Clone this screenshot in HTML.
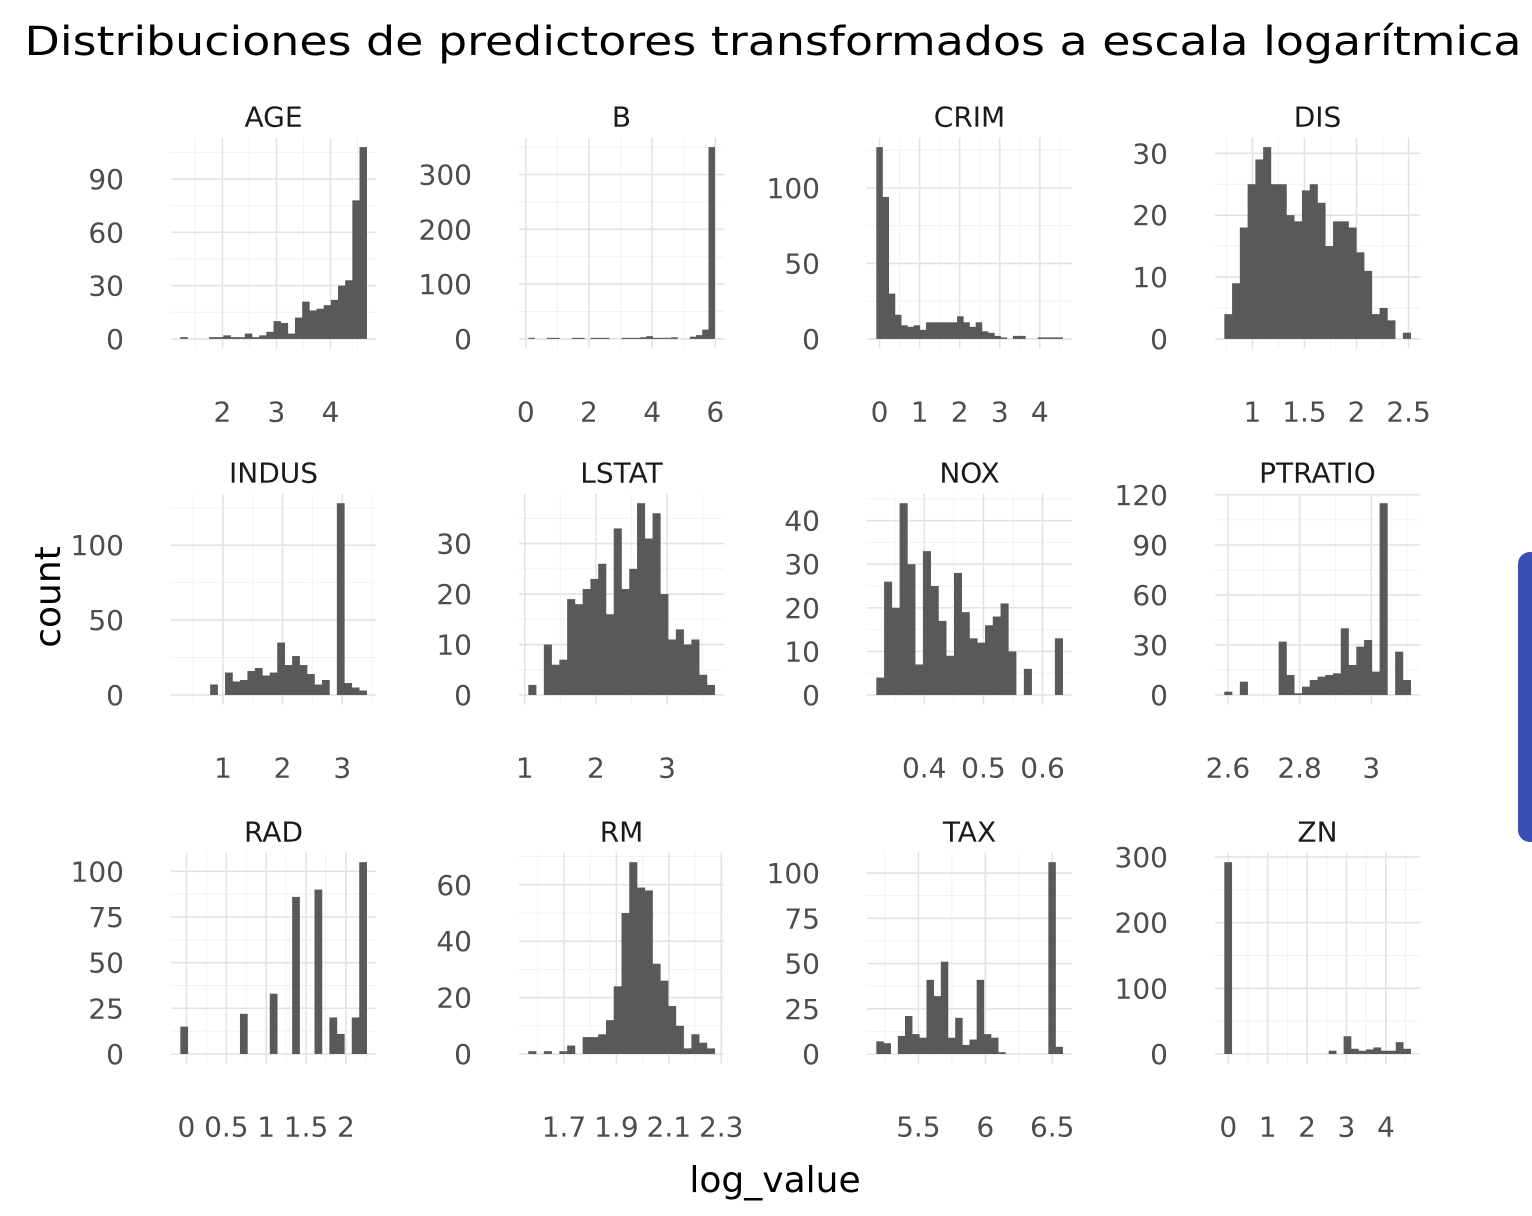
<!DOCTYPE html>
<html><head><meta charset="utf-8"><style>
html,body{margin:0;padding:0;background:#fff;}
svg{display:block;font-family:"DejaVu Sans","Liberation Sans",sans-serif;}
</style></head><body>
<svg id="chart" width="1532" height="1216" viewBox="0 0 1532 1216">
<text x="773" y="55" text-anchor="middle" font-size="40" fill="#000" textLength="1497" lengthAdjust="spacingAndGlyphs">Distribuciones de predictores transformados a escala logarítmica</text>
<text x="775" y="1192" text-anchor="middle" font-size="36" fill="#000">log_value</text>
<text transform="translate(60,597) rotate(-90)" text-anchor="middle" font-size="36" fill="#000">count</text>
<rect x="1518" y="552" width="30" height="290" rx="12" fill="#3a4fb5"/>
<g id="panels"></g>
</svg>
<script>
const panelNames = ["AGE","B","CRIM","DIS","INDUS","LSTAT","NOX","PTRATIO","RAD","RM","TAX","ZN"];
const binLo = [1.22,0.08,-0.08,0.73,0.285,1.05,0.319,2.59,-0.077,1.564,5.186,-0.1];
const binHi = [4.67,5.98,4.57,2.52,3.41,3.67,0.634,3.11,2.26,2.275,6.578,4.63];
const countsAGE = [1,0,0,0,1,1,2,1,1,3,1,2,4,10,9,3,12,21,16,17,19,22,30,33,78,108];
const countsB = [2,0,0,2,2,0,0,2,2,0,2,2,2,0,0,2,2,2,3,5,2,2,2,3,0,0,4,7,17,350];
const countsCRIM = [127,94,30,16,9,8,9,6,11,11,11,11,11,15,11,8,11,5,4,2,1,0,2,2,0,0,1,1,1,1];
const countsDIS = [4,9,18,25,29,31,25,25,20,19,24,25,22,15,19,19,18,14,11,4,5,3,0,1];
const countsINDUS = [0,0,0,0,7,0,15,9,10,16,18,13,15,35,20,26,20,14,7,10,0,128,8,5,3];
const countsLSTAT = [2,0,10,6,7,19,18,21,23,26,16,33,21,25,38,31,36,20,11,13,10,11,4,2];
const countsNOX = [4,26,20,44,30,7,33,25,17,9,28,19,13,12,16,18,21,10,0,6,0,0,0,13];
const countsPTRATIO = [2,0,8,0,0,0,0,32,12,1,5,9,11,12,13,40,18,29,33,14,115,0,26,9];
const countsRAD = [15,0,0,0,0,0,0,0,22,0,0,0,33,0,0,86,0,0,90,0,20,11,0,20,105];
const countsRM = [1,0,1,0,1,3,0,6,6,7,12,24,50,68,59,58,32,26,17,10,2,7,4,2];
const countsTAX = [7,6,0,10,21,11,9,41,32,51,9,20,5,8,41,11,9,1,0,0,0,0,0,0,106,4];
const countsZN = [292,0,0,0,0,0,0,0,0,0,0,0,0,0,5,0,27,8,5,7,10,5,5,18,8];
const allCounts = [countsAGE,countsB,countsCRIM,countsDIS,countsINDUS,countsLSTAT,countsNOX,countsPTRATIO,countsRAD,countsRM,countsTAX,countsZN];
const xTicks = [[2,3,4],[0,2,4,6],[0,1,2,3,4],[1,1.5,2,2.5],[1,2,3],[1,2,3],[0.4,0.5,0.6],[2.6,2.8,3],[0,0.5,1,1.5,2],[1.7,1.9,2.1,2.3],[5.5,6,6.5],[0,1,2,3,4]];
const yTicks = [[0,30,60,90],[0,100,200,300],[0,50,100],[0,10,20,30],[0,50,100],[0,10,20,30],[0,10,20,30,40],[0,30,60,90,120],[0,25,50,75,100],[0,20,40,60],[0,25,50,75,100],[0,100,200,300]];

const NS = "http://www.w3.org/2000/svg";
const colLeft = [171,519,867,1215], PW = 205;
const rowTop = [137.5,493.6,852.6], PH = 211;
const root = document.getElementById("panels");
function mk(tag, attrs, parent){const e=document.createElementNS(NS,tag);for(const k in attrs)e.setAttribute(k,attrs[k]);parent.appendChild(e);return e;}

panelNames.forEach((name,i)=>{
  const L = colLeft[i%4], T = rowTop[Math.floor(i/4)], B = T+PH;
  const lo = binLo[i], hi = binHi[i], c = allCounts[i];
  const pad = 0.05*(hi-lo), dx0 = lo-pad, dx1 = hi+pad;
  const M = Math.max(...c), dy0 = -0.05*M, dy1 = 1.05*M;
  const xs = v => L + (v-dx0)/(dx1-dx0)*PW;
  const ys = v => B - (v-dy0)/(dy1-dy0)*PH;
  const g = mk("g",{},root);
  
  
  const xt = xTicks[i], yt = yTicks[i];
  const xs_ = xt[1]-xt[0], ys_ = yt[1]-yt[0];
  for(let k=-3;k<xt.length+3;k++){const v=xt[0]-xs_/2+k*xs_; if(v>dx0&&v<dx1){const l=mk("line",{x1:xs(v),x2:xs(v),y1:T,y2:B,stroke:"#f2f2f2","stroke-width":1},g);
    
    }}
  for(let k=-3;k<yt.length+3;k++){const v=yt[0]-ys_/2+k*ys_; if(v>dy0&&v<dy1){const l=mk("line",{x1:L,x2:L+PW,y1:ys(v),y2:ys(v),stroke:"#f2f2f2","stroke-width":1},g);
    
    }}
  xt.forEach(v=>{const l=mk("line",{x1:xs(v),x2:xs(v),y1:T,y2:B,stroke:"#e3e3e3","stroke-width":1.6},g);
    
    
    const t=mk("text",{x:xs(v),y:B+73,"text-anchor":"middle","font-size":28,fill:"#4d4d4d"},g);t.textContent=String(v);
    
    });
  yt.forEach(v=>{const l=mk("line",{x1:L,x2:L+PW,y1:ys(v),y2:ys(v),stroke:"#e3e3e3","stroke-width":1.6},g);
    
    
    const t=mk("text",{x:L-47,y:ys(v)+10,"text-anchor":"end","font-size":28,fill:"#4d4d4d"},g);t.textContent=String(v);
    
    });
  const bw = (hi-lo)/c.length;
  c.forEach((v,k)=>{ if(v<=0) return;
    const x0=xs(lo+k*bw), x1=xs(lo+(k+1)*bw);
    const r=mk("rect",{x:x0,y:ys(v),width:x1-x0+0.3,height:ys(0)-ys(v),fill:"#595959"},g);
    
    });
  const st=mk("text",{x:L+PW/2,y:T-11,"text-anchor":"middle","font-size":28,fill:"#1a1a1a"},g);st.textContent=name;
  
  
});
</script>
</body></html>
